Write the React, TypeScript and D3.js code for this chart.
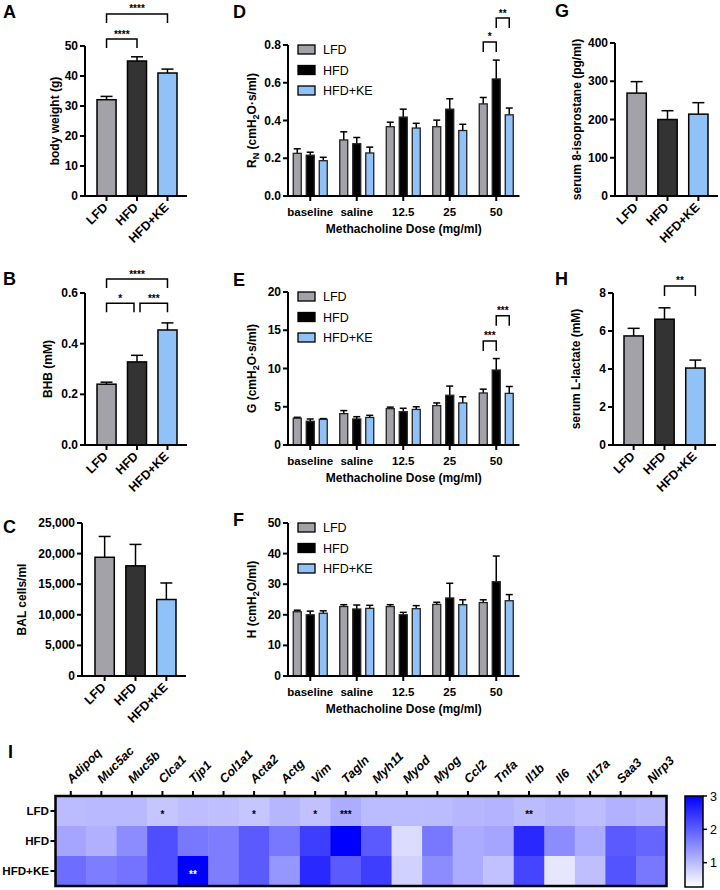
import React from "react";
import * as d3 from "d3";

const FONT = "'Liberation Sans', Arial, Helvetica, sans-serif";

const groups = ["LFD", "HFD", "HFD+KE"];
const singleFills = ["#a3a2a8", "#333333", "#90c1f7"];
const doseFills = ["#a3a2a8", "#000000", "#90c1f7"];

// Panel A
const bodyWeight = [32.1, 45.0, 41.0];
const bodyWeightErr = [1.1, 1.4, 1.3];
// Panel B
const bhb = [0.24, 0.328, 0.454];
const bhbErr = [0.008, 0.026, 0.028];
// Panel C
const balCells = [19400, 18000, 12500];
const balCellsErr = [3400, 3500, 2700];
// Panel G
const isoprostane = [269, 200, 214];
const isoprostaneErr = [30, 23, 30];
// Panel H
const lactate = [5.74, 6.62, 4.05];
const lactateErr = [0.4, 0.6, 0.42];

// Panels D-F
const doses = ["baseline", "saline", "12.5", "25", "50"];
const rnLFD = [0.226, 0.297, 0.367, 0.367, 0.488];
const rnLFDErr = [0.024, 0.043, 0.024, 0.035, 0.034];
const rnHFD = [0.216, 0.277, 0.418, 0.46, 0.62];
const rnHFDErr = [0.016, 0.033, 0.042, 0.055, 0.1];
const rnKE = [0.187, 0.228, 0.36, 0.347, 0.43];
const rnKEErr = [0.018, 0.031, 0.025, 0.033, 0.036];

const gLFD = [3.5, 4.1, 4.75, 5.15, 6.8];
const gLFDErr = [0.12, 0.4, 0.2, 0.35, 0.5];
const gHFD = [3.1, 3.4, 4.35, 6.5, 9.8];
const gHFDErr = [0.3, 0.3, 0.45, 1.2, 1.5];
const gKE = [3.35, 3.6, 4.65, 5.5, 6.75];
const gKEErr = [0.1, 0.28, 0.35, 0.8, 0.9];

const hLFD = [21, 22.7, 22.7, 23.4, 24];
const hLFDErr = [0.5, 0.6, 0.6, 0.7, 0.9];
const hHFD = [20, 21.9, 20, 25.5, 30.8];
const hHFDErr = [1.2, 1.3, 0.8, 4.8, 8.4];
const hKE = [20.5, 22.1, 22, 23.3, 24.6];
const hKEErr = [0.8, 1.0, 1.0, 1.6, 2.0];

// Panel I heatmap
const genes = ["Adipoq", "Muc5ac", "Muc5b", "Clca1", "Tjp1", "Col1a1", "Acta2", "Actg", "Vim", "Tagln",
  "Myh11", "Myod", "Myog", "Ccl2", "Tnfa", "Il1b", "Il6", "Il17a", "Saa3", "Nlrp3"];
const heatRows = ["LFD", "HFD", "HFD+KE"];
const heatLFD = [1.0, 1.02, 1.02, 0.88, 0.98, 0.95, 0.88, 1.05, 0.93, 1.15, 1.0, 1.0, 1.0, 1.05, 1.08, 1.0, 1.05, 0.98, 1.1, 1.05];
const heatHFD = [1.23, 1.12, 1.5, 2.15, 1.72, 1.66, 2.04, 1.72, 2.34, 3.0, 2.04, 0.65, 1.72, 1.17, 1.23, 2.56, 1.5, 1.17, 2.04, 1.91];
const heatKE = [1.83, 1.66, 1.77, 2.15, 3.0, 1.66, 2.04, 1.39, 2.56, 2.04, 2.34, 0.76, 1.5, 1.17, 0.93, 2.26, 0.54, 0.95, 2.1, 1.72];
const starsLFD = ["", "", "", "*", "", "", "*", "", "*", "***", "", "", "", "", "", "**", "", "", "", ""];
const starsHFD = ["", "", "", "", "", "", "", "", "", "", "", "", "", "", "", "", "", "", "", ""];
const starsKE = ["", "", "", "", "**", "", "", "", "", "", "", "", "", "", "", "", "", "", "", ""];
const colorTicks = [1, 2, 3];
const colorDomain = [0.27, 3];

type Bracket = { a: number; b: number; y: number; label: string; insetA?: number; insetB?: number; leg?: number };

function BracketMark({ x1, x2, y, label, leg = 9 }: { x1: number; x2: number; y: number; label: string; leg?: number }) {
  return (
    <g>
      <path d={`M${x1},${y + leg}V${y}H${x2}V${y + leg}`} fill="none" stroke="#000" strokeWidth={1.5} />
      <text x={(x1 + x2) / 2} y={y - 1.5} textAnchor="middle" fontSize={10} fontWeight="bold">{label}</text>
    </g>
  );
}

function BarPanel(p: {
  values: number[]; errs: number[]; yDomain: [number, number]; yTicks: number[]; fmt: (v: number) => string;
  yRange: [number, number]; axisX: number; axisEnd: number; barRange: [number, number];
  ylabel: string; ylabelX: number; letter: string; letterX: number; letterY: number; brackets?: Bracket[];
}) {
  const y = d3.scaleLinear().domain(p.yDomain).range(p.yRange);
  const x = d3.scaleBand().domain(groups).range(p.barRange).paddingInner(0.375);
  const y0 = y(0);
  const bw = x.bandwidth();
  const cx = (g: string) => (x(g) as number) + bw / 2;
  return (
    <g>
      <text x={p.letterX} y={p.letterY} fontSize={18} fontWeight="bold">{p.letter}</text>
      {groups.map((g, i) => (
        <g key={g}>
          <line x1={cx(g)} x2={cx(g)} y1={y(p.values[i])} y2={y(p.values[i] + p.errs[i])} stroke="#000" strokeWidth={1.5} />
          <line x1={cx(g) - 6} x2={cx(g) + 6} y1={y(p.values[i] + p.errs[i])} y2={y(p.values[i] + p.errs[i])} stroke="#000" strokeWidth={1.5} />
          <rect x={x(g)} y={y(p.values[i])} width={bw} height={y0 - y(p.values[i])} fill={singleFills[i]} stroke="#000" strokeWidth={1.5} />
        </g>
      ))}
      <path d={`M${p.axisX},${y(p.yDomain[1])}V${y0}H${p.axisEnd}`} fill="none" stroke="#000" strokeWidth={2} />
      {p.yTicks.map((t) => (
        <g key={t}>
          <line x1={p.axisX - 5} x2={p.axisX} y1={y(t)} y2={y(t)} stroke="#000" strokeWidth={2} />
          <text x={p.axisX - 7} y={y(t) + 4} textAnchor="end" fontSize={12} fontWeight="bold">{p.fmt(t)}</text>
        </g>
      ))}
      {groups.map((g) => (
        <g key={g}>
          <line x1={cx(g)} x2={cx(g)} y1={y0} y2={y0 + 5} stroke="#000" strokeWidth={2} />
          <text transform={`translate(${cx(g) + 2},${y0 + 12}) rotate(-45)`} textAnchor="end" fontSize={12.5} fontWeight="bold">{g}</text>
        </g>
      ))}
      <text transform={`translate(${p.ylabelX},${(y0 + y(p.yDomain[1])) / 2}) rotate(-90)`} textAnchor="middle" fontSize={12} fontWeight="bold">{p.ylabel}</text>
      {(p.brackets || []).map((b, i) => (
        <BracketMark key={i} x1={cx(groups[b.a]) + (b.insetA || 0)} x2={cx(groups[b.b]) - (b.insetB || 0)} y={y(b.y)} label={b.label} leg={b.leg} />
      ))}
    </g>
  );
}

function DosePanel(p: {
  series: number[][]; errs: number[][]; yDomain: [number, number]; yTicks: number[]; fmt: (v: number) => string;
  yRange: [number, number]; axisX: number; xRange: [number, number]; ylabel: React.ReactNode; ylabelX: number;
  letter: string; letterX: number; letterY: number; brackets?: Bracket[];
}) {
  const y = d3.scaleLinear().domain(p.yDomain).range(p.yRange);
  const x0 = d3.scaleBand().domain(doses).range(p.xRange);
  const step = x0.bandwidth();
  const x1 = d3.scaleBand().domain(groups).range([step / 2 - 17, step / 2 + 17]).paddingInner(0.385);
  const bw = x1.bandwidth();
  const y0 = y(0);
  const yTop = y(p.yDomain[1]);
  const bx = (d: string, g: string) => (x0(d) as number) + (x1(g) as number);
  const mid = (p.axisX + p.xRange[1]) / 2;
  return (
    <g>
      <text x={p.letterX} y={p.letterY} fontSize={18} fontWeight="bold">{p.letter}</text>
      {doses.map((d, di) => (
        <g key={d}>
          {groups.map((g, gi) => {
            const v = p.series[gi][di];
            const e = p.errs[gi][di];
            const c = bx(d, g) + bw / 2;
            return (
              <g key={g}>
                <line x1={c} x2={c} y1={y(v)} y2={y(v + e)} stroke="#000" strokeWidth={1.5} />
                <line x1={c - 3.5} x2={c + 3.5} y1={y(v + e)} y2={y(v + e)} stroke="#000" strokeWidth={1.5} />
                <rect x={bx(d, g)} y={y(v)} width={bw} height={y0 - y(v)} fill={doseFills[gi]} stroke="#222" strokeWidth={1.3} />
              </g>
            );
          })}
        </g>
      ))}
      <path d={`M${p.axisX},${yTop}V${y0}H${p.xRange[1]}`} fill="none" stroke="#000" strokeWidth={2} />
      {p.yTicks.map((t) => (
        <g key={t}>
          <line x1={p.axisX - 5} x2={p.axisX} y1={y(t)} y2={y(t)} stroke="#000" strokeWidth={2} />
          <text x={p.axisX - 7} y={y(t) + 4} textAnchor="end" fontSize={12} fontWeight="bold">{p.fmt(t)}</text>
        </g>
      ))}
      {doses.map((d) => {
        const c = (x0(d) as number) + step / 2;
        return (
          <g key={d}>
            <line x1={c} x2={c} y1={y0} y2={y0 + 5} stroke="#000" strokeWidth={2} />
            <text x={c} y={y0 + 20} textAnchor="middle" fontSize={11.5} fontWeight="bold">{d}</text>
          </g>
        );
      })}
      <text x={mid} y={y0 + 37} textAnchor="middle" fontSize={12} fontWeight="bold">Methacholine Dose (mg/ml)</text>
      <text transform={`translate(${p.ylabelX},${(y0 + yTop) / 2}) rotate(-90)`} textAnchor="middle" fontSize={12} fontWeight="bold">{p.ylabel}</text>
      {groups.map((g, i) => (
        <g key={g}>
          <rect x={p.axisX + 10} y={yTop + i * 20.5} width={17} height={9} fill={doseFills[i]} stroke="#000" strokeWidth={1.3} />
          <text x={p.axisX + 35} y={yTop + i * 20.5 + 9} fontSize={12.5}>{g}</text>
        </g>
      ))}
      {(p.brackets || []).map((b, i) => {
        const last = doses[doses.length - 1];
        return (
          <BracketMark key={i} x1={bx(last, groups[b.a]) + bw / 2} x2={bx(last, groups[b.b]) + bw / 2} y={y(b.y)} label={b.label} leg={b.leg} />
        );
      })}
    </g>
  );
}

function Heatmap() {
  const x = d3.scaleBand().domain(genes).range([55.5, 666.5]);
  const y = d3.scaleBand().domain(heatRows).range([796, 886]);
  const color = d3.scaleLinear<string>().domain(colorDomain).range(["#ffffff", "#0000ff"]).clamp(true);
  const rows = [heatLFD, heatHFD, heatKE];
  const stars = [starsLFD, starsHFD, starsKE];
  const cb = d3.scaleLinear().domain(colorDomain).range([887, 796]);
  return (
    <g>
      <defs>
        <linearGradient id="cbar" x1="0" y1="1" x2="0" y2="0">
          <stop offset="0" stopColor={color(colorDomain[0])} />
          <stop offset="1" stopColor={color(colorDomain[1])} />
        </linearGradient>
      </defs>
      <text x={8} y={758} fontSize={18} fontWeight="bold">I</text>
      {heatRows.map((r, ri) => (
        <g key={r}>
          {genes.map((g, gi) => (
            <rect key={g} x={x(g)} y={y(r)} width={x.bandwidth() + 0.5} height={y.bandwidth() + 0.5} fill={color(rows[ri][gi])} />
          ))}
        </g>
      ))}
      {heatRows.map((r, ri) => (
        <g key={r}>
          {genes.map((g, gi) => stars[ri][gi] ? (
            <text key={g} x={(x(g) as number) + x.bandwidth() / 2} y={(y(r) as number) + y.bandwidth() / 2 + 7} textAnchor="middle"
              fontSize={10} fontWeight="bold" fill={ri === 2 ? "#fff" : "#000"}>{stars[ri][gi]}</text>
          ) : null)}
        </g>
      ))}
      <rect x={55.5} y={796} width={611} height={90} fill="none" stroke="#000" strokeWidth={2.5} />
      {genes.map((g) => {
        const c = (x(g) as number) + x.bandwidth() / 2;
        return (
          <g key={g}>
            <line x1={c} x2={c} y1={791} y2={796} stroke="#000" strokeWidth={2} />
            <text transform={`translate(${c + 1},${784}) rotate(-45)`} fontSize={12.5} fontWeight="bold" fontStyle="italic">{g}</text>
          </g>
        );
      })}
      {heatRows.map((r) => {
        const c = (y(r) as number) + y.bandwidth() / 2;
        return (
          <g key={r}>
            <line x1={50.5} x2={55.5} y1={c} y2={c} stroke="#000" strokeWidth={2} />
            <text x={49} y={c + 4} textAnchor="end" fontSize={11.6} fontWeight="bold">{r}</text>
          </g>
        );
      })}
      <rect x={685} y={796} width={18} height={91} fill="url(#cbar)" stroke="#000" strokeWidth={1.5} />
      {colorTicks.map((t) => (
        <g key={t}>
          <line x1={703} x2={707} y1={cb(t)} y2={cb(t)} stroke="#000" strokeWidth={1.5} />
          <text x={710} y={cb(t) + 4.5} fontSize={12.5}>{t}</text>
        </g>
      ))}
    </g>
  );
}

const sub = (s: string) => <tspan fontSize={9} dy={3}>{s}</tspan>;

export default function App() {
  const f1 = d3.format(".1f");
  const f0 = d3.format("d");
  const fc = d3.format(",");
  return (
    <svg width={720} height={890} style={{ position: "absolute", left: 0, top: 0, background: "#fff" }} fontFamily={FONT}>
      <rect width={720} height={890} fill="#fff" />
      <BarPanel values={bodyWeight} errs={bodyWeightErr} yDomain={[0, 50]} yTicks={[0, 10, 20, 30, 40, 50]} fmt={f0}
        yRange={[196, 46]} axisX={85} axisEnd={187} barRange={[97, 177]} ylabel="body weight (g)" ylabelX={59}
        letter="A" letterX={3} letterY={18}
        brackets={[{ a: 0, b: 1, y: 52.3, label: "****" }, { a: 0, b: 2, y: 60.7, label: "****" }]} />
      <BarPanel values={bhb} errs={bhbErr} yDomain={[0, 0.6]} yTicks={[0, 0.2, 0.4, 0.6]} fmt={f1}
        yRange={[445, 293]} axisX={85} axisEnd={187} barRange={[97, 177]} ylabel="BHB (mM)" ylabelX={52}
        letter="B" letterX={3} letterY={285}
        brackets={[{ a: 0, b: 2, y: 0.655, label: "****" }, { a: 0, b: 1, y: 0.56, label: "*", insetB: 3 }, { a: 1, b: 2, y: 0.56, label: "***", insetA: 3 }]} />
      <BarPanel values={balCells} errs={balCellsErr} yDomain={[0, 25000]} yTicks={[0, 5000, 10000, 15000, 20000, 25000]} fmt={fc}
        yRange={[676, 523]} axisX={82} axisEnd={186} barRange={[95, 176]} ylabel="BAL cells/ml" ylabelX={26}
        letter="C" letterX={3} letterY={533} />
      <BarPanel values={isoprostane} errs={isoprostaneErr} yDomain={[0, 400]} yTicks={[0, 100, 200, 300, 400]} fmt={f0}
        yRange={[196, 43]} axisX={615} axisEnd={718} barRange={[627, 708]} ylabel="serum 8-isoprostane (pg/ml)" ylabelX={581}
        letter="G" letterX={555} letterY={17} />
      <BarPanel values={lactate} errs={lactateErr} yDomain={[0, 8]} yTicks={[0, 2, 4, 6, 8]} fmt={f0}
        yRange={[445, 293]} axisX={613} axisEnd={716} barRange={[624, 705]} ylabel="serum L-lactate (mM)" ylabelX={580}
        letter="H" letterX={555} letterY={285}
        brackets={[{ a: 1, b: 2, y: 8.37, label: "**", leg: 10 }]} />
      <DosePanel series={[rnLFD, rnHFD, rnKE]} errs={[rnLFDErr, rnHFDErr, rnKEErr]} yDomain={[0, 0.8]} yTicks={[0, 0.2, 0.4, 0.6, 0.8]} fmt={f1}
        yRange={[196, 45]} axisX={288} xRange={[287, 519.5]} ylabelX={256}
        ylabel={<>R{sub("N")}<tspan dy={-3}> (cmH</tspan>{sub("2")}<tspan dy={-3}>O·s/ml)</tspan></>}
        letter="D" letterX={233} letterY={18}
        brackets={[{ a: 0, b: 1, y: 0.816, label: "*", leg: 10 }, { a: 1, b: 2, y: 0.943, label: "**", leg: 10 }]} />
      <DosePanel series={[gLFD, gHFD, gKE]} errs={[gLFDErr, gHFDErr, gKEErr]} yDomain={[0, 20]} yTicks={[0, 5, 10, 15, 20]} fmt={f0}
        yRange={[445, 292]} axisX={288} xRange={[287, 519.5]} ylabelX={256}
        ylabel={<>G (cmH{sub("2")}<tspan dy={-3}>O·s/ml)</tspan></>}
        letter="E" letterX={233} letterY={286}
        brackets={[{ a: 0, b: 1, y: 13.6, label: "***", leg: 10 }, { a: 1, b: 2, y: 16.9, label: "***", leg: 10 }]} />
      <DosePanel series={[hLFD, hHFD, hKE]} errs={[hLFDErr, hHFDErr, hKEErr]} yDomain={[0, 50]} yTicks={[0, 10, 20, 30, 40, 50]} fmt={f0}
        yRange={[676, 523]} axisX={288} xRange={[287, 519.5]} ylabelX={256}
        ylabel={<>H (cmH{sub("2")}<tspan dy={-3}>O/ml)</tspan></>}
        letter="F" letterX={233} letterY={526} />
      <Heatmap />
    </svg>
  );
}
